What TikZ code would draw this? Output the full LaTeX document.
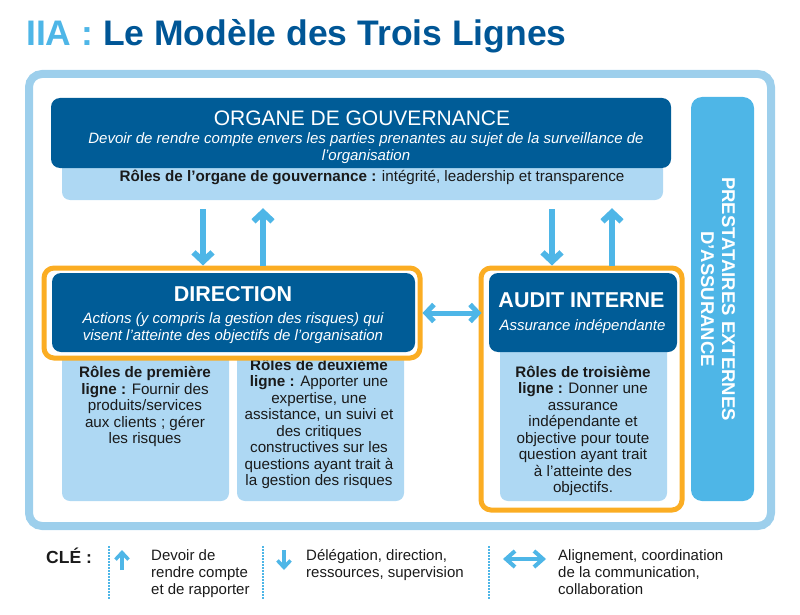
\documentclass[tikz,border=0pt]{standalone}
\usepackage{fontspec}
\setmainfont{Liberation Sans}
\usetikzlibrary{arrows.meta, positioning, calc}
\definecolor{iiadark}{RGB}{0,92,151}
\definecolor{iiatitle}{RGB}{0,86,150}
\definecolor{iiasky}{RGB}{78,182,231}
\definecolor{iiapale}{RGB}{174,216,243}
\definecolor{iiaframe}{RGB}{157,207,236}
\definecolor{iiaorange}{RGB}{251,173,35}
\definecolor{iiaink}{RGB}{26,26,26}
\newcommand{\iiafont}[2]{\fontsize{#1}{#2}\selectfont}

\begin{document}
\begin{tikzpicture}[
      x=1pt, y=-1pt,
      darkbox/.style={rectangle, rounded corners=9pt, fill=iiadark, inner sep=0pt},
      palebox/.style={rectangle, rounded corners=8pt, fill=iiapale, inner sep=0pt},
      lineframe/.style={rectangle, rounded corners=10pt, draw=iiaorange,
        line width=5pt, fill=white, inner sep=0pt},
      headtext/.style={text=white, inner sep=0pt, anchor=base, font=\iiafont{21.5}{24}\bfseries},
      subtext/.style={text=white, inner sep=0pt, align=center, font=\iiafont{15}{17}\itshape},
      roletext/.style={text=iiaink, inner sep=0pt, align=center, anchor=north,
        font=\iiafont{15.2}{16.5}},
      arrow/.style={-{Straight Barb[length=9pt, width=19pt]}, line width=6pt, iiasky},
      twoway/.style={{Straight Barb[length=8pt, width=17pt]}-{Straight Barb[length=8pt, width=17pt]},
        line width=5pt, iiasky},
      keyarrow/.style={-{Straight Barb[length=7pt, width=13pt]}, line width=3.5pt, iiasky},
      keytwoway/.style={{Straight Barb[length=9pt, width=16pt]}-{Straight Barb[length=9pt, width=16pt]},
        line width=4pt, iiasky},
      keysep/.style={iiasky, line width=1.5pt, dash pattern=on 1.5pt off 1.5pt},
      keytext/.style={text=iiaink, inner sep=0pt, anchor=north west, align=left,
        font=\iiafont{15}{17}}
    ]
      \useasboundingbox (0,0) rectangle (800,615);

      % Title
      \node[anchor=base west, inner sep=0pt, font=\iiafont{35.5}{40}\bfseries] (title) at (26,46)
        {\textcolor{iiasky}{IIA :} \textcolor{iiatitle}{Le Modèle des Trois Lignes}};

      % Outer frame
      \node[draw=iiaframe, line width=8pt, rounded corners=13pt, inner sep=0pt,
        minimum width=742pt, minimum height=452pt] (frame) at (400,300) {};

      % Governing body
      \node[palebox, minimum width=601pt, minimum height=50pt] (gouvrole) at (362.5,175) {};
      \node[darkbox, minimum width=620pt, minimum height=70pt] (gouv) at (361,133) {};
      \node[headtext, font=\iiafont{21}{24}] (gouvtitle) at (362,126) {ORGANE DE GOUVERNANCE};
      \node[subtext, anchor=north] (gouvduty) at (366,132.5)
        {Devoir de rendre compte envers les parties prenantes au sujet de la surveillance de\\l’organisation};
      \node[text=iiaink, inner sep=0pt, anchor=base, font=\iiafont{15.2}{17}] (gouvroletext) at (372,181)
        {\textbf{Rôles de l’organe de gouvernance :} intégrité, leadership et transparence};

      % Management
      \node[palebox, minimum width=167pt, minimum height=170pt] (firstline) at (145.5,416) {};
      \node[palebox, minimum width=167pt, minimum height=170pt] (secondline) at (320.5,416) {};
      \node[roletext] (firsttext) at (145,366)
        {\textbf{Rôles de première}\\\textbf{ligne :} Fournir des\\produits/services\\aux clients ; gérer\\les risques};
      \node[roletext] (secondtext) at (319,358.8)
        {\textbf{Rôles de deuxième}\\\textbf{ligne :} Apporter une\\expertise, une\\assistance, un suivi et\\des critiques\\constructives sur les\\questions ayant trait à\\la gestion des risques};
      \node[lineframe, minimum width=376pt, minimum height=90pt] (dirframe) at (232,313) {};
      \node[darkbox, minimum width=363pt, minimum height=79pt] (dir) at (233.5,312.5) {};
      \node[headtext] (dirtitle) at (233,301) {DIRECTION};
      \node[subtext, anchor=north] (dirduty) at (233,312.3)
        {Actions (y compris la gestion des risques) qui\\visent l’atteinte des objectifs de l’organisation};

      % Internal audit
      \node[lineframe, minimum width=201pt, minimum height=242pt] (auditframe) at (581.5,389) {};
      \node[palebox, minimum width=167pt, minimum height=160pt] (thirdline) at (583.5,421) {};
      \node[darkbox, minimum width=188pt, minimum height=79pt] (audit) at (583,312.5) {};
      \node[headtext] (audittitle) at (581.5,307.5) {AUDIT INTERNE};
      \node[subtext, anchor=base] (auditduty) at (582.5,330) {Assurance indépendante};
      \node[roletext] (thirdtext) at (583,365.5)
        {\textbf{Rôles de troisième}\\\textbf{ligne :} Donner une\\assurance\\indépendante et\\objective pour toute\\question ayant trait\\à l’atteinte des\\objectifs.};

      % External assurance providers
      \node[rectangle, rounded corners=11pt, fill=iiasky, inner sep=0pt,
        minimum width=63pt, minimum height=404pt] (extern) at (722.5,299) {};
      \node[text=white, rotate=-90, align=center, inner sep=0pt,
        font=\iiafont{18.5}{21}\bfseries] (externtext) at ([xshift=-4.5pt]extern.center)
        {PRESTATAIRES EXTERNES\\D’ASSURANCE};

      % Draw arrows
      \coordinate (dirdown) at (203,0);
      \coordinate (dirup) at (263,0);
      \coordinate (auditdown) at (552,0);
      \coordinate (auditup) at (612,0);
      \draw[arrow, shorten <=9pt] (dirdown |- gouvrole.south) -- (dirdown |- dirframe.north);
      \draw[arrow, shorten >=8pt] (dirup |- dirframe.north) -- (dirup |- gouvrole.south);
      \draw[arrow, shorten <=9pt] (auditdown |- gouvrole.south) -- (auditdown |- auditframe.north);
      \draw[arrow, shorten >=8pt] (auditup |- auditframe.north) -- (auditup |- gouvrole.south);
      \draw[twoway, shorten >=-3pt] (dirframe.east) -- (auditframe.west |- dirframe.east);

      % Key
      \node[anchor=base west, inner sep=0pt, text=iiaink, font=\iiafont{17.5}{20}\bfseries] (key) at (46,563) {CLÉ :};
      \foreach \x in {109,263,489}
        \draw[keysep] (\x,546) -- (\x,600);
      \draw[keyarrow] (122,570) -- (122,550);
      \draw[keyarrow] (284,550) -- (284,570);
      \draw[keytwoway] (503,559) -- (546,559);
      \node[keytext] (keyup) at (151,549.5) {Devoir de\\rendre compte\\et de rapporter};
      \node[keytext] (keydown) at (306,549.5) {Délégation, direction,\\ressources, supervision};
      \node[keytext] (keyboth) at (558,549.5) {Alignement, coordination\\de la communication,\\collaboration};
    \end{tikzpicture}
\end{document}
